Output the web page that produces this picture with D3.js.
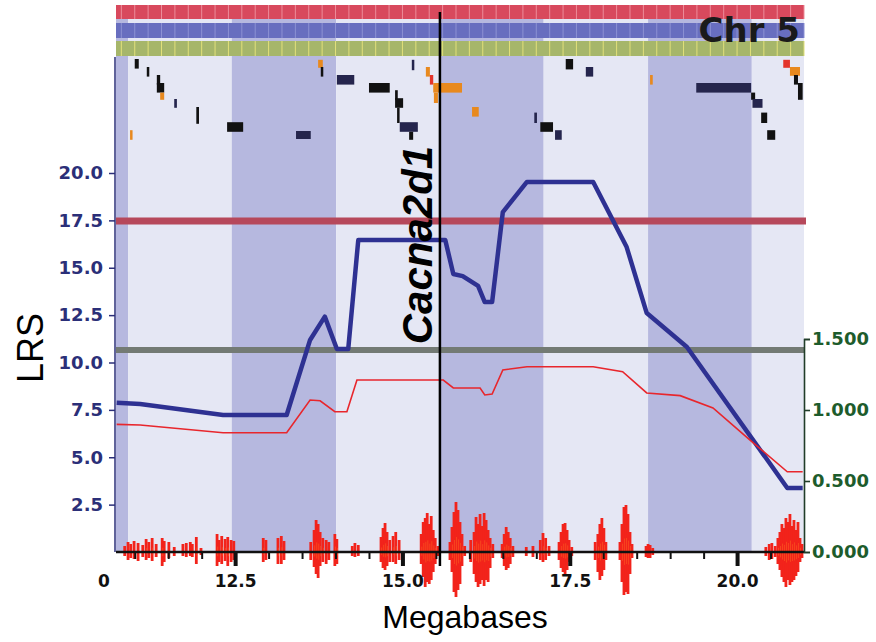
<!DOCTYPE html>
<html>
<head>
<meta charset="utf-8">
<script src="https://cdn.jsdelivr.net/npm/d3@7"></script>
<style>
  html, body { margin: 0; padding: 0; background: #fff; }
  svg { display: block; }
</style>
</head>
<body>
<svg id="chart" width="876" height="642"></svg>
<script>
// ---- data (Mb positions, LRS / additive effect values)
const bandEdges = [10.72, 10.90, 12.45, 14.01, 15.56, 17.11, 18.67, 20.22, 21.0];
const xMajorTicks = [12.5, 15.0, 17.5, 20.0];
const lrsTicks = [2.5, 5.0, 7.5, 10.0, 12.5, 15.0, 17.5, 20.0];
const effectTicks = [0, 0.5, 1.0, 1.5];
const suggestiveLRS = 10.66;
const significantLRS = 17.47;
const markerGene = "Cacna2d1";
const markerMb = 15.56;

// [Mb, LRS]
const lrsCurve = [
  [10.73, 7.88], [11.08, 7.81], [12.32, 7.23], [13.27, 7.23], [13.62, 11.19],
  [13.84, 12.42], [14.02, 10.71], [14.19, 10.71], [14.34, 16.46], [15.64, 16.46],
  [15.76, 14.67], [15.90, 14.56], [16.13, 14.04], [16.23, 13.19], [16.34, 13.19],
  [16.50, 17.94], [16.86, 19.53], [17.85, 19.53], [18.35, 16.09], [18.65, 12.61],
  [19.25, 10.82], [20.75, 3.38], [20.98, 3.38]
];
// [Mb, additive effect]
const effectCurve = [
  [10.73, 0.899], [11.08, 0.894], [12.32, 0.840], [13.27, 0.840], [13.62, 1.070],
  [13.77, 1.065], [13.99, 0.988], [14.17, 0.988], [14.32, 1.211], [15.61, 1.211],
  [15.76, 1.155], [16.16, 1.155], [16.23, 1.106], [16.34, 1.113], [16.50, 1.282],
  [16.86, 1.305], [17.85, 1.305], [18.29, 1.270], [18.65, 1.120], [19.15, 1.101],
  [19.64, 1.014], [20.19, 0.789], [20.75, 0.565], [20.98, 0.565]
];
// genes: [startMb, endMb, lane, laneSpan, kind]
const genes = [
  [11.00, 11.06, 0, 1.2, "k"], [11.18, 11.21, 1, 1.2, "k"], [11.33, 11.38, 2, 1.2, "k"],
  [11.33, 11.44, 3, 1.2, "k"], [11.38, 11.44, 4.2, 0.9, "o"], [11.59, 11.63, 5, 1.1, "n"],
  [11.92, 11.96, 6, 2.1, "k"], [12.38, 12.62, 7.9, 1.2, "k"], [10.93, 10.96, 8.9, 1.2, "o"],
  [13.41, 13.63, 9, 1.0, "n"], [13.74, 13.81, 0.1, 1.0, "o"], [13.78, 13.81, 1, 1.2, "k"],
  [14.02, 14.28, 2, 1.2, "n"], [14.50, 14.81, 3, 1.2, "k"], [15.14, 15.17, 0.1, 1.3, "n"],
  [15.35, 15.41, 1, 1.2, "o"], [15.41, 15.46, 2, 1.2, "r"], [15.46, 15.89, 3, 1.2, "o"],
  [15.47, 15.53, 4.2, 1.3, "o"], [14.89, 14.93, 3.9, 1.2, "k"], [14.89, 15.01, 4.9, 1.2, "k"],
  [14.92, 14.94, 6.1, 1.9, "k"], [14.96, 15.23, 7.9, 1.2, "n"], [15.10, 15.16, 9.1, 1.0, "k"],
  [16.04, 16.14, 6, 1.2, "o"], [17.44, 17.55, 0, 1.3, "k"], [17.74, 17.85, 1, 1.2, "n"],
  [18.70, 18.74, 2, 1.2, "o"], [19.39, 20.21, 3, 1.2, "n"], [20.21, 20.27, 4.2, 0.9, "k"],
  [20.23, 20.38, 5, 1.1, "n"], [20.36, 20.45, 6.7, 1.3, "k"], [20.45, 20.57, 8.9, 1.2, "k"],
  [16.97, 17.01, 6.7, 1.3, "n"], [17.06, 17.25, 7.9, 1.2, "k"], [17.28, 17.38, 8.9, 1.2, "n"],
  [20.69, 20.79, 0.1, 1.0, "r"], [20.79, 20.94, 1, 1.1, "o"], [20.85, 20.91, 2, 1.2, "k"],
  [20.91, 20.98, 3, 2.1, "k"]
];
// SNP / variant signal spikes: [Mb, up, down]
const spikes = [
  [10.85, 6, 4], [10.90, 10, 8], [10.94, 8, 6], [10.99, 11, 7], [11.05, 9, 9], [11.12, 7, 5],
  [11.17, 13, 8], [11.21, 10, 6], [11.26, 14, 9], [11.32, 8, 5], [11.41, 14, 14], [11.44, 11, 10],
  [11.51, 10, 6], [11.59, 5, 4], [11.72, 8, 4], [11.77, 9, 5], [11.83, 10, 4], [11.86, 8, 5],
  [11.92, 15, 12], [11.99, 4, 3],
  [12.23, 18, 14], [12.26, 12, 10], [12.30, 16, 12], [12.35, 13, 9], [12.39, 15, 14], [12.44, 12, 10],
  [12.48, 11, 8],
  [12.92, 14, 10], [12.96, 12, 8], [13.14, 14, 12], [13.19, 16, 12], [13.23, 11, 8],
  [13.63, 10, 8], [13.68, 22, 15], [13.71, 32, 22], [13.74, 28, 26], [13.77, 20, 14], [13.81, 14, 10],
  [13.86, 12, 12], [13.90, 10, 8], [13.99, 18, 14], [14.02, 13, 12],
  [14.25, 6, 4], [14.29, 9, 5], [14.34, 7, 4],
  [14.68, 15, 10], [14.71, 24, 16], [14.74, 29, 18], [14.77, 20, 14], [14.81, 12, 10], [14.86, 16, 10],
  [14.90, 20, 12], [14.95, 12, 8],
  [15.28, 18, 12], [15.31, 30, 25], [15.34, 34, 35], [15.37, 39, 30], [15.40, 28, 32], [15.43, 36, 28],
  [15.46, 22, 20], [15.49, 14, 12], [15.53, 6, 4],
  [15.71, 10, 8], [15.74, 25, 20], [15.77, 40, 40], [15.80, 50, 45], [15.83, 42, 38], [15.86, 30, 32],
  [15.89, 18, 14], [15.93, 6, 4],
  [16.02, 12, 10], [16.07, 20, 22], [16.10, 35, 30], [16.13, 28, 35], [16.16, 38, 32], [16.19, 26, 28],
  [16.22, 39, 34], [16.25, 32, 28], [16.28, 22, 30], [16.31, 14, 16], [16.35, 8, 6],
  [16.49, 8, 6], [16.52, 18, 14], [16.55, 25, 18], [16.58, 20, 16], [16.61, 14, 12], [16.65, 6, 5],
  [16.85, 5, 4], [16.95, 6, 5], [17.06, 12, 8], [17.10, 19, 10], [17.14, 14, 8], [17.19, 6, 4],
  [17.34, 10, 8], [17.37, 20, 16], [17.40, 28, 20], [17.43, 29, 22], [17.46, 22, 18], [17.49, 12, 10],
  [17.53, 5, 4],
  [17.88, 10, 8], [17.92, 18, 20], [17.95, 28, 28], [17.98, 34, 24], [18.01, 24, 18], [18.04, 10, 8],
  [18.25, 10, 8], [18.28, 28, 30], [18.31, 45, 43], [18.34, 47, 40], [18.37, 38, 42], [18.40, 20, 22],
  [18.43, 8, 6],
  [18.64, 6, 5], [18.67, 8, 6], [18.70, 7, 6], [18.74, 4, 3],
  [20.43, 5, 4], [20.48, 8, 8], [20.52, 9, 7], [20.57, 6, 5], [20.61, 14, 12], [20.64, 20, 18],
  [20.67, 28, 25], [20.70, 24, 30], [20.73, 34, 35], [20.76, 30, 28], [20.79, 38, 33], [20.82, 26, 30],
  [20.85, 32, 28], [20.88, 22, 24], [20.91, 30, 20], [20.94, 14, 10], [20.97, 8, 6]
];

// ---- colours
const navy = "#2b2f78";
const green = "#1d5c2c";
const geneColor = { k: "#111111", n: "#25254d", o: "#e8891e", r: "#e3342b" };

// ---- scales
const svg = d3.select("#chart");
const x = d3.scaleLinear().domain([10.72, 21.0]).range([116, 804]);
const yL = d3.scaleLinear().domain([0, 20]).range([552, 173]);
const yR = d3.scaleLinear().domain([0, 1.5]).range([552, 339]);
const lane = d3.scaleLinear().domain([0, 1]).range([59, 67]);
const amp = d3.scaleLinear().domain([0, 50]).range([0, 50]);
const base = yL(0);

// alternating background bands
svg.append("g").selectAll("rect")
  .data(d3.pairs(bandEdges))
  .join("rect")
  .attr("x", d => x(d[0]))
  .attr("width", d => x(d[1]) - x(d[0]))
  .attr("y", 5)
  .attr("height", base - 5)
  .attr("fill", (d, i) => i % 2 === 0 ? "#b6b8df" : "#e5e7f4");

// top strips
const strips = [
  { y0: 5, y1: 19, fill: "#d8495d", sep: "#ec8d9a" },
  { y0: 23, y1: 38, fill: "#686ebf", sep: "#8c91d3" },
  { y0: 41, y1: 56, fill: "#a6b66a", sep: "#e2e07a" }
];
const stripG = svg.append("g");
strips.forEach(s => {
  stripG.append("rect").attr("x", x(10.72)).attr("width", x(21.0) - x(10.72))
    .attr("y", s.y0).attr("height", s.y1 - s.y0).attr("fill", s.fill);
  stripG.append("g").selectAll("line").data(x.ticks(50)).join("line")
    .attr("x1", d => x(d)).attr("x2", d => x(d))
    .attr("y1", s.y0).attr("y2", s.y1)
    .attr("stroke", s.sep).attr("stroke-width", 1);
});

// gene track
svg.append("g").selectAll("rect")
  .data(genes)
  .join("rect")
  .attr("x", d => x(d[0]))
  .attr("width", d => Math.max(2.5, x(d[1]) - x(d[0])))
  .attr("y", d => lane(d[2]))
  .attr("height", d => lane(d[2] + d[3]) - lane(d[2]))
  .attr("fill", d => geneColor[d[4]]);

// threshold lines
svg.append("line").attr("x1", x(10.72)).attr("x2", 806)
  .attr("y1", yL(significantLRS)).attr("y2", yL(significantLRS))
  .attr("stroke", "#b6485b").attr("stroke-width", 7);
svg.append("line").attr("x1", x(10.72)).attr("x2", 805)
  .attr("y1", yL(suggestiveLRS)).attr("y2", yL(suggestiveLRS))
  .attr("stroke", "#737a74").attr("stroke-width", 6);

// LRS curve
svg.append("path").datum(lrsCurve)
  .attr("fill", "none").attr("stroke", "#2e3192").attr("stroke-width", 4.5)
  .attr("stroke-linejoin", "round")
  .attr("d", d3.line().x(d => x(d[0])).y(d => yL(d[1])));

// additive effect curve
svg.append("path").datum(effectCurve)
  .attr("fill", "none").attr("stroke", "#e8262c").attr("stroke-width", 1.6)
  .attr("d", d3.line().x(d => x(d[0])).y(d => yR(d[1])));

// spikes
const spG = svg.append("g");
spG.selectAll("line.sp").data(spikes).join("line").attr("class", "sp")
  .attr("x1", d => x(d[0])).attr("x2", d => x(d[0]))
  .attr("y1", d => base - amp(d[1])).attr("y2", d => base + amp(d[2]))
  .attr("stroke", "#f2231b").attr("stroke-width", 2.8);
spG.selectAll("line.core").data(spikes.filter(d => d[1] > 12)).join("line").attr("class", "core")
  .attr("x1", d => x(d[0]) + 0.6).attr("x2", d => x(d[0]) + 0.6)
  .attr("y1", d => base - amp(d[1]) * 0.3).attr("y2", d => base + amp(d[2]) * 0.3)
  .attr("stroke", "#ff7a22").attr("stroke-width", 0.8).attr("opacity", 0.5);

// bottom axis
svg.append("line").attr("x1", x(10.72)).attr("x2", x(21.0))
  .attr("y1", base).attr("y2", base).attr("stroke", "#111").attr("stroke-width", 2.5);
const minor = x.ticks(20).filter(t => !xMajorTicks.includes(t) && t < 21);
const gMinor = svg.append("g").attr("transform", `translate(0,${base})`)
  .call(d3.axisBottom(x).tickValues(minor).tickSize(7).tickFormat(""));
gMinor.select(".domain").remove();
gMinor.selectAll("line").attr("stroke", "#111").attr("stroke-width", 2);
const gMajor = svg.append("g").attr("transform", `translate(0,${base})`)
  .call(d3.axisBottom(x).tickValues(xMajorTicks).tickSize(14).tickPadding(9).tickFormat(d3.format(".1f")));
gMajor.select(".domain").remove();
gMajor.selectAll("line").attr("stroke", "#111").attr("stroke-width", 4);
gMajor.selectAll("text").attr("font-family", "DejaVu Sans").attr("font-weight", "bold")
  .attr("font-size", 17).attr("fill", "#111");
svg.append("text").attr("x", x(10.72) - 12).attr("y", 587)
  .attr("text-anchor", "middle").attr("font-family", "DejaVu Sans").attr("font-weight", "bold")
  .attr("font-size", 17).attr("fill", "#111").text("0");

// left axis
svg.append("line").attr("x1", 115).attr("x2", 115).attr("y1", 57).attr("y2", base)
  .attr("stroke", navy).attr("stroke-width", 1.5);
const gL = svg.append("g").attr("transform", "translate(115,0)")
  .call(d3.axisLeft(yL).tickValues(lrsTicks).tickSize(6).tickPadding(6).tickFormat(d3.format(".1f")));
gL.select(".domain").remove();
gL.selectAll("line").attr("stroke", navy).attr("stroke-width", 1.5);
gL.selectAll("text").attr("font-family", "DejaVu Sans").attr("font-weight", "bold")
  .attr("font-size", 18).attr("fill", navy);

// right axis
const gR = svg.append("g").attr("transform", "translate(804,0)")
  .call(d3.axisRight(yR).tickValues(effectTicks).tickSize(6).tickPadding(2).tickFormat(d3.format(".3f")));
gR.select(".domain").attr("stroke", "#213d29").attr("stroke-width", 1.6);
gR.selectAll("line").attr("stroke", "#213d29").attr("stroke-width", 1.6);
gR.selectAll("text").attr("font-family", "DejaVu Sans").attr("font-weight", "bold")
  .attr("font-size", 18).attr("fill", green);

// marker gene line + label
svg.append("line").attr("x1", x(markerMb)).attr("x2", x(markerMb)).attr("y1", 12).attr("y2", 566)
  .attr("stroke", "#000").attr("stroke-width", 2.5);
svg.append("text")
  .attr("transform", `translate(${x(markerMb) - 8},245) rotate(-90)`)
  .attr("text-anchor", "middle")
  .attr("font-family", "Liberation Sans, Arial, sans-serif")
  .attr("font-weight", "bold").attr("font-style", "italic")
  .attr("font-size", 42).attr("fill", "#000").text(markerGene);

// titles
svg.append("text").attr("x", 800).attr("y", 42).attr("text-anchor", "end")
  .attr("font-family", "DejaVu Sans").attr("font-weight", "bold").attr("font-size", 34)
  .attr("fill", "#1a1a1a").text("Chr 5");
svg.append("text").attr("x", 465).attr("y", 628).attr("text-anchor", "middle")
  .attr("font-family", "Liberation Sans, Arial, sans-serif").attr("font-size", 32)
  .attr("fill", "#000").text("Megabases");
svg.append("text").attr("transform", "translate(43,348) rotate(-90)").attr("text-anchor", "middle")
  .attr("font-family", "Liberation Sans, Arial, sans-serif").attr("font-size", 36)
  .attr("fill", "#000").text("LRS");
</script>
</body>
</html>
